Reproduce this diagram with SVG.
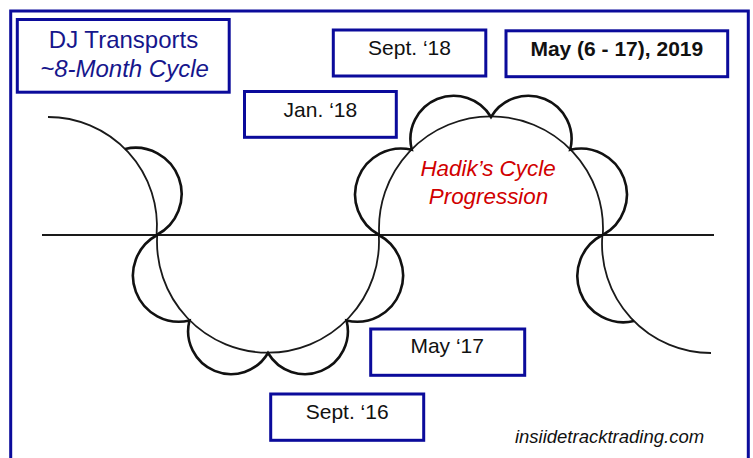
<svg xmlns="http://www.w3.org/2000/svg" width="753" height="458" viewBox="0 0 753 458">
  <style>
    .frame { fill: none; stroke: #0b0b9b; stroke-width: 3; }
    .box { fill: #ffffff; stroke: #0b0b9b; stroke-width: 3; }
    .lbl { font-family: "Liberation Sans", Arial, sans-serif; font-size: 21px; fill: #111111; text-anchor: middle; }
    .bold { font-weight: bold; }
    .title { font-family: "Liberation Sans", Arial, sans-serif; font-size: 24px; fill: #16168c; text-anchor: middle; }
    .red { font-family: "Liberation Sans", Arial, sans-serif; font-size: 22.4px; font-style: italic; fill: #d10000; text-anchor: middle; }
    .site { font-family: "Liberation Sans", Arial, sans-serif; font-size: 18.5px; font-style: italic; fill: #111111; text-anchor: middle; }
    .axis { stroke: #1a1a1a; stroke-width: 2; fill: none; }
    .big { stroke: #1a1a1a; stroke-width: 1.8; fill: none; }
    .scallop { stroke: #111111; stroke-width: 2.6; fill: none; }
  </style>

  <rect x="0" y="0" width="753" height="458" fill="#ffffff"/>
  <!-- outer frame (bottom edge runs off the canvas) -->
  <rect class="frame" x="10.7" y="11" width="737.6" height="460"/>

  <!-- cycle wave: large arcs with scallops along them -->
  <g id="wave">
    <line class="axis" x1="42" y1="235" x2="714" y2="235"/>
    <!-- large arcs -->
    <path class="big" d="M48,117 A109,109 0 0 1 156.6,235"/>
    <path class="big" d="M157.2,235 A111,111 0 1 0 378.8,235"/>
    <path class="big" d="M379.2,235 A112,112 0 1 1 602.8,235"/>
    <path class="big" d="M602.4,235 A109,109 0 0 0 711,353"/>
    <!-- scallops -->
    <path class="scallop" d="M125.1,148.9 A46.2,46.2 0 0 1 156.6,235"/>
    <path class="scallop" d="M157.2,235 A46.1,46.1 0 0 0 189.5,320.5 A42.9,42.9 0 0 0 268,353 A42.9,42.9 0 0 0 346.5,320.5 A46.1,46.1 0 0 0 378.8,235"/>
    <path class="scallop" d="M379.2,235 A46,46 0 0 1 411.8,149.8 A43.3,43.3 0 0 1 491,117 A43.3,43.3 0 0 1 570.2,149.8 A46,46 0 0 1 602.8,235"/>
    <path class="scallop" d="M602.4,235 A46.2,46.2 0 0 0 633.9,321.1"/>
  </g>

  <g id="title">
    <rect class="box" x="17.3" y="19.5" width="211.9" height="72.7"/>
    <text class="title" x="123.5" y="48">DJ Transports</text>
    <text class="title" x="124.5" y="77" font-style="italic">~8-Month Cycle</text>
  </g>

  <g id="sept18">
    <rect class="box" x="333.3" y="30" width="152.5" height="46"/>
    <text class="lbl" x="409.5" y="55">Sept. ‘18</text>
  </g>

  <g id="may2019">
    <rect class="box" x="506" y="30.8" width="221.7" height="45.9"/>
    <text class="lbl bold" x="616.8" y="56">May (6 - 17), 2019</text>
  </g>

  <g id="jan18">
    <rect class="box" x="244.5" y="91.5" width="151.8" height="45.8"/>
    <text class="lbl" x="320.4" y="116.5">Jan. ‘18</text>
  </g>

  <g id="may17">
    <rect class="box" x="370.7" y="329" width="154" height="46.3"/>
    <text class="lbl" x="447.2" y="353">May ‘17</text>
  </g>

  <g id="sept16">
    <rect class="box" x="270.7" y="394" width="153" height="46.3"/>
    <text class="lbl" x="347.2" y="419">Sept. ‘16</text>
  </g>

  <g id="progression">
    <text class="red" x="488" y="176">Hadik’s Cycle</text>
    <text class="red" x="488.5" y="204">Progression</text>
  </g>

  <text class="site" x="609.5" y="442.5">insiidetracktrading.com</text>
</svg>
